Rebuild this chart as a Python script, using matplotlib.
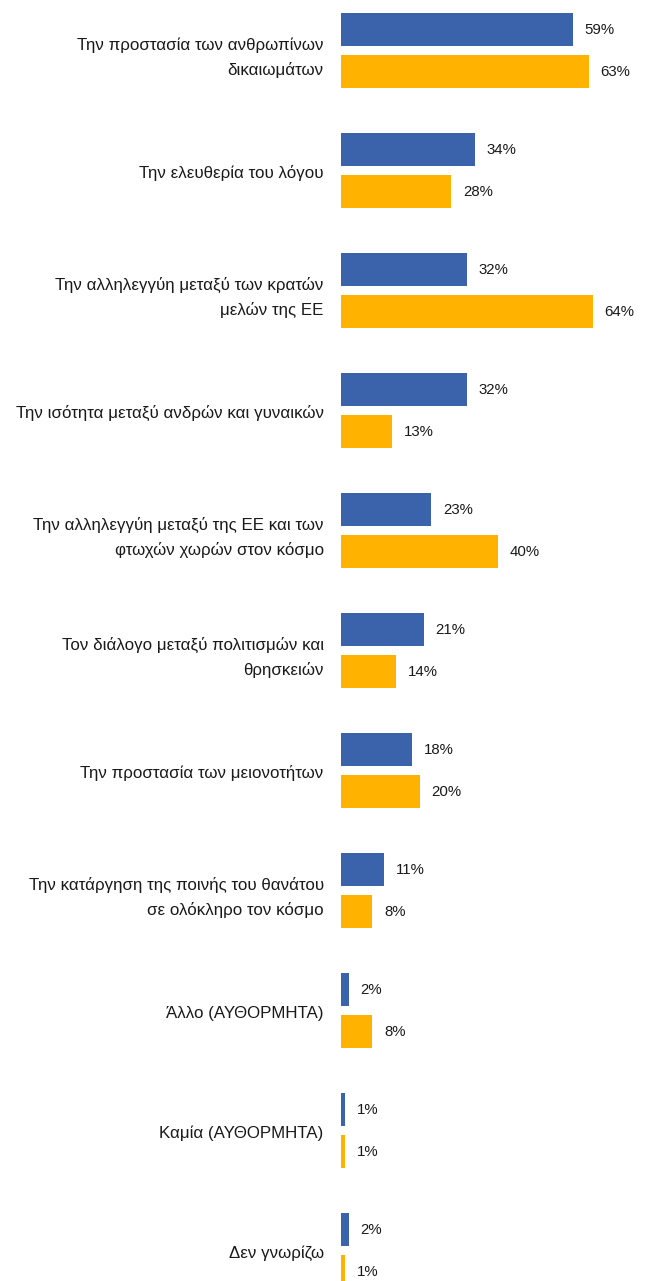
import matplotlib.pyplot as plt
import numpy as np

categories = [
    "Την προστασία των ανθρωπίνων\nδικαιωμάτων",
    "Την ελευθερία του λόγου",
    "Την αλληλεγγύη μεταξύ των κρατών\nμελών της ΕΕ",
    "Την ισότητα μεταξύ ανδρών και γυναικών",
    "Την αλληλεγγύη μεταξύ της ΕΕ και των\nφτωχών χωρών στον κόσμο",
    "Τον διάλογο μεταξύ πολιτισμών και\nθρησκειών",
    "Την προστασία των μειονοτήτων",
    "Την κατάργηση της ποινής του θανάτου\nσε ολόκληρο τον κόσμο",
    "Άλλο (ΑΥΘΟΡΜΗΤΑ)",
    "Καμία (ΑΥΘΟΡΜΗΤΑ)",
    "Δεν γνωρίζω",
]
blue_vals = [59, 34, 32, 32, 23, 21, 18, 11, 2, 1, 2]
orange_vals = [63, 28, 64, 13, 40, 14, 20, 8, 8, 1, 1]

blue = '#3A63AC'
orange = '#FFB300'

plt.rcParams['font.family'] = ['Liberation Sans', 'DejaVu Sans']

W, H = 649, 1281
fig = plt.figure(figsize=(W / 100, H / 100), dpi=100)
left = 341 / W
ax = fig.add_axes([left, 0, 1 - left, 1])

y = np.arange(len(categories))
h = 0.275
off = 0.177
ax.barh(y - off, blue_vals, height=h, color=blue)
ax.barh(y + off, orange_vals, height=h, color=orange)

for yi, v in zip(y - off, blue_vals):
    ax.text(v + 3.0, yi, f'{v}%', va='center', ha='left', fontsize=10.8, color='#1a1a1a')
for yi, v in zip(y + off, orange_vals):
    ax.text(v + 3.0, yi, f'{v}%', va='center', ha='left', fontsize=10.8, color='#1a1a1a')

for yi, c in zip(y, categories):
    # two-line labels sit a little lower in the original
    dy = 0.058 if '\n' in c else 0.02
    ax.text(-4.4, yi + dy, c, va='center', ha='right', fontsize=12.2, color='#1a1a1a',
            linespacing=1.66, clip_on=False)

ax.set_xlim(0, (W - 341) / 3.93)
ax.set_ylim((H - 50.75) / 120, -50.75 / 120)
ax.axis('off')

fig.savefig('out.png', dpi=100)
